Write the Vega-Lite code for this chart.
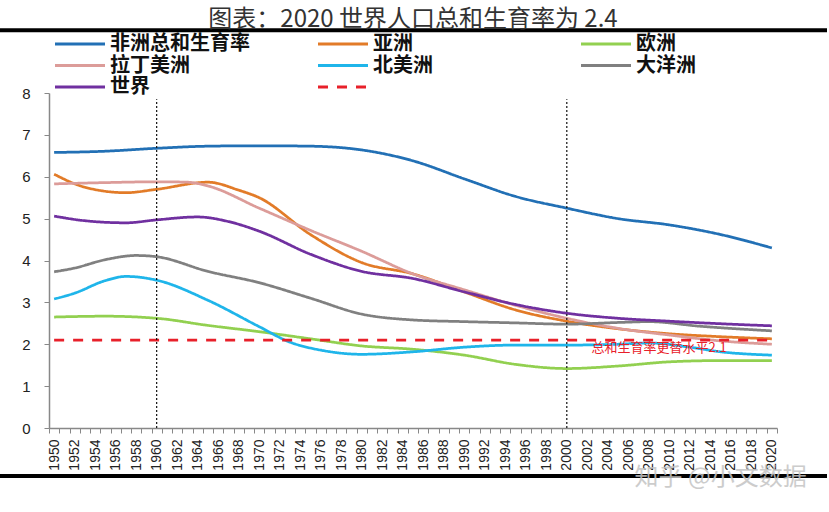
{
  "$schema": "https://vega.github.io/schema/vega-lite/v6.json",
  "width": 728,
  "height": 335,
  "autosize": {"type": "none"},
  "padding": {"left": 49, "top": 93, "right": 52, "bottom": 84},
  "background": "white",
  "config": {"view": {"stroke": null}, "font": "Liberation Sans"},
  "title": {
    "text": "图表：2020 世界人口总和生育率为 2.4",
    "font": "Noto Sans CJK SC",
    "fontSize": 24,
    "fontWeight": "normal",
    "color": "#333333",
    "anchor": "middle",
    "offset": -4
  },
  "datasets": {
    "tfr": [
      {"series": "非洲总和生育率", "year": 1950, "value": 6.58},
      {"series": "非洲总和生育率", "year": 1955, "value": 6.61},
      {"series": "非洲总和生育率", "year": 1960, "value": 6.68},
      {"series": "非洲总和生育率", "year": 1965, "value": 6.73},
      {"series": "非洲总和生育率", "year": 1970, "value": 6.74},
      {"series": "非洲总和生育率", "year": 1975, "value": 6.73},
      {"series": "非洲总和生育率", "year": 1980, "value": 6.64},
      {"series": "非洲总和生育率", "year": 1985, "value": 6.38},
      {"series": "非洲总和生育率", "year": 1990, "value": 5.95},
      {"series": "非洲总和生育率", "year": 1995, "value": 5.53},
      {"series": "非洲总和生育率", "year": 2000, "value": 5.25},
      {"series": "非洲总和生育率", "year": 2005, "value": 5.0},
      {"series": "非洲总和生育率", "year": 2010, "value": 4.85},
      {"series": "非洲总和生育率", "year": 2015, "value": 4.62},
      {"series": "非洲总和生育率", "year": 2020, "value": 4.3},

      {"series": "亚洲", "year": 1950, "value": 6.06},
      {"series": "亚洲", "year": 1953, "value": 5.75},
      {"series": "亚洲", "year": 1957, "value": 5.62},
      {"series": "亚洲", "year": 1960, "value": 5.7},
      {"series": "亚洲", "year": 1965, "value": 5.87},
      {"series": "亚洲", "year": 1968, "value": 5.68},
      {"series": "亚洲", "year": 1970, "value": 5.5},
      {"series": "亚洲", "year": 1975, "value": 4.62},
      {"series": "亚洲", "year": 1980, "value": 3.95},
      {"series": "亚洲", "year": 1985, "value": 3.68},
      {"series": "亚洲", "year": 1990, "value": 3.25},
      {"series": "亚洲", "year": 1995, "value": 2.82},
      {"series": "亚洲", "year": 2000, "value": 2.55},
      {"series": "亚洲", "year": 2005, "value": 2.37},
      {"series": "亚洲", "year": 2010, "value": 2.25},
      {"series": "亚洲", "year": 2015, "value": 2.18},
      {"series": "亚洲", "year": 2020, "value": 2.13},

      {"series": "欧洲", "year": 1950, "value": 2.65},
      {"series": "欧洲", "year": 1955, "value": 2.67},
      {"series": "欧洲", "year": 1960, "value": 2.62},
      {"series": "欧洲", "year": 1965, "value": 2.45},
      {"series": "欧洲", "year": 1970, "value": 2.3},
      {"series": "欧洲", "year": 1975, "value": 2.13},
      {"series": "欧洲", "year": 1980, "value": 1.96},
      {"series": "欧洲", "year": 1985, "value": 1.88},
      {"series": "欧洲", "year": 1990, "value": 1.74},
      {"series": "欧洲", "year": 1995, "value": 1.52},
      {"series": "欧洲", "year": 2000, "value": 1.42},
      {"series": "欧洲", "year": 2005, "value": 1.48},
      {"series": "欧洲", "year": 2010, "value": 1.58},
      {"series": "欧洲", "year": 2015, "value": 1.61},
      {"series": "欧洲", "year": 2020, "value": 1.61},

      {"series": "拉丁美洲", "year": 1950, "value": 5.83},
      {"series": "拉丁美洲", "year": 1955, "value": 5.86},
      {"series": "拉丁美洲", "year": 1960, "value": 5.88},
      {"series": "拉丁美洲", "year": 1963, "value": 5.87},
      {"series": "拉丁美洲", "year": 1965, "value": 5.78},
      {"series": "拉丁美洲", "year": 1970, "value": 5.25},
      {"series": "拉丁美洲", "year": 1975, "value": 4.72},
      {"series": "拉丁美洲", "year": 1980, "value": 4.22},
      {"series": "拉丁美洲", "year": 1985, "value": 3.68},
      {"series": "拉丁美洲", "year": 1990, "value": 3.3},
      {"series": "拉丁美洲", "year": 1995, "value": 2.93},
      {"series": "拉丁美洲", "year": 2000, "value": 2.62},
      {"series": "拉丁美洲", "year": 2005, "value": 2.38},
      {"series": "拉丁美洲", "year": 2010, "value": 2.22},
      {"series": "拉丁美洲", "year": 2015, "value": 2.08},
      {"series": "拉丁美洲", "year": 2020, "value": 2.0},

      {"series": "北美洲", "year": 1950, "value": 3.08},
      {"series": "北美洲", "year": 1952, "value": 3.22},
      {"series": "北美洲", "year": 1955, "value": 3.52},
      {"series": "北美洲", "year": 1957, "value": 3.62},
      {"series": "北美洲", "year": 1960, "value": 3.53},
      {"series": "北美洲", "year": 1965, "value": 3.05},
      {"series": "北美洲", "year": 1970, "value": 2.42},
      {"series": "北美洲", "year": 1973, "value": 2.05},
      {"series": "北美洲", "year": 1976, "value": 1.86},
      {"series": "北美洲", "year": 1980, "value": 1.76},
      {"series": "北美洲", "year": 1985, "value": 1.82},
      {"series": "北美洲", "year": 1990, "value": 1.93},
      {"series": "北美洲", "year": 1995, "value": 1.98},
      {"series": "北美洲", "year": 2000, "value": 1.98},
      {"series": "北美洲", "year": 2005, "value": 2.0},
      {"series": "北美洲", "year": 2008, "value": 2.03},
      {"series": "北美洲", "year": 2012, "value": 1.93},
      {"series": "北美洲", "year": 2015, "value": 1.82},
      {"series": "北美洲", "year": 2020, "value": 1.74},

      {"series": "大洋洲", "year": 1950, "value": 3.73},
      {"series": "大洋洲", "year": 1952, "value": 3.82},
      {"series": "大洋洲", "year": 1955, "value": 4.02},
      {"series": "大洋洲", "year": 1958, "value": 4.12},
      {"series": "大洋洲", "year": 1960, "value": 4.09},
      {"series": "大洋洲", "year": 1965, "value": 3.74},
      {"series": "大洋洲", "year": 1970, "value": 3.47},
      {"series": "大洋洲", "year": 1975, "value": 3.1},
      {"series": "大洋洲", "year": 1980, "value": 2.72},
      {"series": "大洋洲", "year": 1985, "value": 2.58},
      {"series": "大洋洲", "year": 1990, "value": 2.54},
      {"series": "大洋洲", "year": 1995, "value": 2.51},
      {"series": "大洋洲", "year": 2000, "value": 2.48},
      {"series": "大洋洲", "year": 2005, "value": 2.52},
      {"series": "大洋洲", "year": 2008, "value": 2.54},
      {"series": "大洋洲", "year": 2013, "value": 2.43},
      {"series": "大洋洲", "year": 2020, "value": 2.32},

      {"series": "世界", "year": 1950, "value": 5.06},
      {"series": "世界", "year": 1953, "value": 4.95},
      {"series": "世界", "year": 1957, "value": 4.9},
      {"series": "世界", "year": 1960, "value": 4.97},
      {"series": "世界", "year": 1964, "value": 5.04},
      {"series": "世界", "year": 1967, "value": 4.93},
      {"series": "世界", "year": 1970, "value": 4.7},
      {"series": "世界", "year": 1975, "value": 4.15},
      {"series": "世界", "year": 1980, "value": 3.74},
      {"series": "世界", "year": 1985, "value": 3.57},
      {"series": "世界", "year": 1990, "value": 3.25},
      {"series": "世界", "year": 1995, "value": 2.95},
      {"series": "世界", "year": 2000, "value": 2.74},
      {"series": "世界", "year": 2005, "value": 2.62},
      {"series": "世界", "year": 2010, "value": 2.55},
      {"series": "世界", "year": 2015, "value": 2.49},
      {"series": "世界", "year": 2020, "value": 2.44},

      {"series": "更替水平", "year": 1950, "value": 2.1},
      {"series": "更替水平", "year": 2020, "value": 2.1}
    ],
    "marks": [
      {"year": 1960},
      {"year": 2000}
    ]
  },
  "layer": [
    {
      "data": {"name": "tfr"},
      "mark": {"type": "line", "interpolate": "monotone", "strokeWidth": 2.75},
      "encoding": {
        "x": {
          "field": "year",
          "type": "ordinal",
          "scale": {
            "type": "band",
            "paddingInner": 0,
            "paddingOuter": 0,
            "domain": [1950,1951,1952,1953,1954,1955,1956,1957,1958,1959,1960,1961,1962,1963,1964,1965,1966,1967,1968,1969,1970,1971,1972,1973,1974,1975,1976,1977,1978,1979,1980,1981,1982,1983,1984,1985,1986,1987,1988,1989,1990,1991,1992,1993,1994,1995,1996,1997,1998,1999,2000,2001,2002,2003,2004,2005,2006,2007,2008,2009,2010,2011,2012,2013,2014,2015,2016,2017,2018,2019,2020]
          },
          "axis": {
            "title": null,
            "grid": false,
            "tickBand": "extent",
            "labelExpr": "datum.value % 2 == 0 ? datum.label : ''",
            "labelAngle": -90,
            "labelOverlap": false,
            "labelBound": false,
            "labelFontSize": 14,
            "labelColor": "#222222",
            "labelPadding": 6,
            "domainColor": "#888888",
            "domainWidth": 1.5,
            "tickColor": "#888888",
            "tickSize": 5,
            "tickWidth": 1
          }
        },
        "y": {
          "field": "value",
          "type": "quantitative",
          "scale": {"domain": [0, 8], "nice": false},
          "axis": {
            "title": null,
            "grid": false,
            "values": [0,1,2,3,4,5,6,7,8],
            "labelFontSize": 15,
            "labelColor": "#222222",
            "labelPadding": 14,
            "domainColor": "#888888",
            "domainWidth": 1.5,
            "tickColor": "#888888",
            "tickSize": 5,
            "tickWidth": 1
          }
        },
        "color": {
          "field": "series",
          "type": "nominal",
          "scale": {
            "domain": ["非洲总和生育率", "亚洲", "欧洲", "拉丁美洲", "北美洲", "大洋洲", "世界", "更替水平"],
            "range": ["#2270B5", "#E27B28", "#92D050", "#DC9C99", "#1FB5EA", "#808080", "#7030A0", "#E8202A"]
          },
          "legend": {
            "title": null,
            "orient": "none",
            "legendX": 1,
            "legendY": -59,
            "direction": "horizontal",
            "columns": 3,
            "gridAlign": "all",
            "columnPadding": 62,
            "rowPadding": 1.5,
            "padding": 0,
            "symbolType": "M-1,0H9",
            "symbolSize": 100,
            "symbolStrokeWidth": 3,
            "labelOffset": 40,
            "labelFont": "Noto Sans CJK SC",
            "labelFontSize": 20,
            "labelFontWeight": "bold",
            "labelColor": "#111111",
            "labelLimit": 400,
            "labelExpr": "datum.label == '更替水平' ? '' : datum.label"
          }
        },
        "strokeDash": {
          "field": "series",
          "type": "nominal",
          "scale": {
            "domain": ["非洲总和生育率", "亚洲", "欧洲", "拉丁美洲", "北美洲", "大洋洲", "世界", "更替水平"],
            "range": [[1,0],[1,0],[1,0],[1,0],[1,0],[1,0],[1,0],[10,9]]
          }
        }
      }
    },
    {
      "data": {"name": "marks"},
      "mark": {"type": "rule", "color": "#111111", "strokeWidth": 1.2, "strokeDash": [2, 2]},
      "encoding": {
        "x": {"field": "year", "type": "ordinal"},
        "y": {"datum": 0},
        "y2": {"datum": 7.85}
      }
    },
    {
      "data": {"values": [{}]},
      "mark": {"type": "text", "color": "#E8202A", "font": "Noto Sans CJK SC", "fontSize": 13, "align": "center", "baseline": "middle"},
      "encoding": {
        "x": {"datum": 2009, "type": "ordinal"},
        "y": {"datum": 1.92},
        "text": {"value": "总和生育率更替水平2.1"}
      }
    },
    {
      "data": {"values": [{}]},
      "mark": {"type": "rule", "color": "#000000", "strokeWidth": 4, "xOffset": -49, "x2Offset": 50},
      "encoding": {
        "x": {"datum": 1950, "type": "ordinal", "bandPosition": 0},
        "x2": {"datum": 2020, "bandPosition": 1},
        "y": {"datum": 9.5}
      }
    },
    {
      "data": {"values": [{}]},
      "mark": {"type": "rule", "color": "#000000", "strokeWidth": 4, "xOffset": -49, "x2Offset": 50},
      "encoding": {
        "x": {"datum": 1950, "type": "ordinal", "bandPosition": 0},
        "x2": {"datum": 2020, "bandPosition": 1},
        "y": {"datum": -1.146}
      }
    },
    {
      "data": {"values": [{}]},
      "mark": {"type": "text", "color": "#c4c4c4", "opacity": 0.85, "font": "Noto Sans CJK SC", "fontSize": 24, "align": "center", "baseline": "middle"},
      "encoding": {
        "x": {"datum": 2015, "type": "ordinal"},
        "y": {"datum": -1.19},
        "text": {"value": "知乎 @小文数据"}
      }
    }
  ]
}
